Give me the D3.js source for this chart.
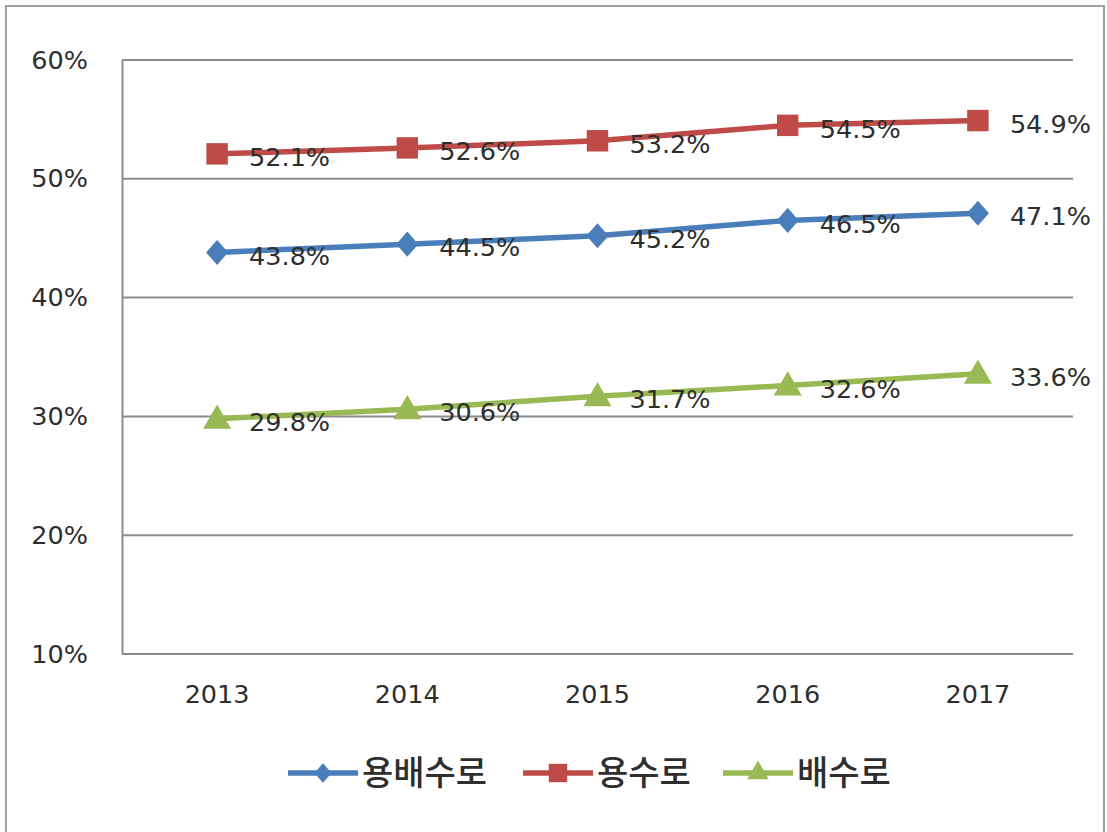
<!DOCTYPE html>
<html>
<head>
<meta charset="utf-8">
<script src="https://cdn.jsdelivr.net/npm/d3@7"></script>
<style>
  body { margin: 0; background: #fff; }
  svg { display: block; }
</style>
</head>
<body>
<svg id="chart" width="1107" height="832"></svg>
<script>
    "use strict";
    //============================================================
    // Data
    //------------------------------------------------------------

    var years = ['2013', '2014', '2015', '2016', '2017'];
    var seriesNames = ['용배수로', '용수로', '배수로'];
    var yongbaesu = [43.8, 44.5, 45.2, 46.5, 47.1];
    var yongsu = [52.1, 52.6, 53.2, 54.5, 54.9];
    var baesu = [29.8, 30.6, 31.7, 32.6, 33.6];
    var yTicks = [10, 20, 30, 40, 50, 60];

    // excel-like diamond: a bit wider than d3's default one
    var excelDiamond = {
        draw: function (context, size) {
            var h = Math.sqrt(size) * 0.75, w = h * 0.88;
            context.moveTo(0, -h);
            context.lineTo(w, 0);
            context.lineTo(0, h);
            context.lineTo(-w, 0);
            context.closePath();
        }
    };

    var series = [
        {key: seriesNames[0], values: yongbaesu, color: '#4a7ebb', symbol: excelDiamond, size: 280, legendSize: 170},
        {key: seriesNames[1], values: yongsu, color: '#be4b48', symbol: d3.symbolSquare, size: 460, legendSize: 340},
        {key: seriesNames[2], values: baesu, color: '#98b954', symbol: d3.symbolTriangle, size: 340, legendSize: 200}
    ];

    //============================================================
    // Layout
    //------------------------------------------------------------

    var margin = {top: 60, right: 34, bottom: 178, left: 122}
      , width = 1107
      , height = 832
      , font = "'DejaVu Sans', Verdana, sans-serif"
      , fontSize = 25.5
      , textColor = '#2e2e2e'
      , gridColor = '#8c8c8c'
      ;

    var svg = d3.select('#chart');

    // outer frame
    svg.append('rect')
        .attr('x', 6).attr('y', 6)
        .attr('width', 1098).attr('height', 840)
        .attr('fill', '#fff')
        .attr('stroke', '#a0a0a0')
        .attr('stroke-width', 2);

    var x = d3.scaleBand()
        .domain(years)
        .range([margin.left, width - margin.right]);

    var y = d3.scaleLinear()
        .domain([10, 60])
        .range([height - margin.bottom, margin.top]);

    var g = svg.append('g');

    // gridlines
    g.selectAll('line.grid')
        .data(yTicks)
        .enter().append('line')
        .attr('class', 'grid')
        .attr('x1', margin.left)
        .attr('x2', width - margin.right)
        .attr('y1', function (d) { return y(d); })
        .attr('y2', function (d) { return y(d); })
        .attr('stroke', gridColor)
        .attr('stroke-width', 2);

    // y axis
    var yAxis = g.append('g')
        .attr('transform', 'translate(' + margin.left + ',0)')
        .call(d3.axisLeft(y).tickValues(yTicks).tickSize(0).tickPadding(34)
            .tickFormat(function (d) { return d + '%'; }));
    yAxis.select('.domain').attr('stroke', gridColor).attr('stroke-width', 2);
    yAxis.selectAll('text')
        .attr('font-family', font)
        .attr('font-size', fontSize)
        .attr('fill', textColor);

    // x axis
    var xAxis = g.append('g')
        .attr('transform', 'translate(0,' + y(10) + ')')
        .call(d3.axisBottom(x).tickSize(0).tickPadding(31));
    xAxis.select('.domain').remove();
    xAxis.selectAll('text')
        .attr('font-family', font)
        .attr('font-size', fontSize)
        .attr('fill', textColor);

    var cx = function (d, i) { return x(years[i]) + x.bandwidth() / 2; };

    var line = d3.line()
        .x(cx)
        .y(function (d) { return y(d); });

    var seriesG = g.selectAll('g.series')
        .data(series)
        .enter().append('g')
        .attr('class', 'series');

    seriesG.append('path')
        .attr('d', function (d) { return line(d.values); })
        .attr('fill', 'none')
        .attr('stroke', function (d) { return d.color; })
        .attr('stroke-width', 5.5);

    seriesG.each(function (s) {
        var sg = d3.select(this);
        sg.selectAll('path.marker')
            .data(s.values)
            .enter().append('path')
            .attr('class', 'marker')
            .attr('d', d3.symbol().type(s.symbol).size(s.size))
            .attr('transform', function (d, i) {
                return 'translate(' + cx(d, i) + ',' + (y(d) + (s.symbol === d3.symbolTriangle ? 2 : 0)) + ')';
            })
            .attr('fill', s.color);

        sg.selectAll('text.label')
            .data(s.values)
            .enter().append('text')
            .attr('class', 'label')
            .attr('x', function (d, i) { return cx(d, i) + 32; })
            .attr('y', function (d) { return y(d) + 3; })
            .attr('dy', '0.36em')
            .attr('font-family', font)
            .attr('font-size', fontSize)
            .attr('fill', textColor)
            .text(function (d) { return d.toFixed(1) + '%'; });
    });

    //============================================================
    // Legend
    //------------------------------------------------------------

    var legendX = [288, 523, 723]
      , legendY = 773;

    var legend = svg.selectAll('g.legend')
        .data(series)
        .enter().append('g')
        .attr('class', 'legend')
        .attr('transform', function (d, i) { return 'translate(' + legendX[i] + ',' + legendY + ')'; });

    legend.append('line')
        .attr('x1', 0).attr('x2', 70)
        .attr('stroke', function (d) { return d.color; })
        .attr('stroke-width', 5.5);

    legend.append('path')
        .attr('d', function (d) {
            return d3.symbol().type(d.symbol).size(d.legendSize)();
        })
        .attr('transform', 'translate(35,0)')
        .attr('fill', function (d) { return d.color; });

    legend.append('text')
        .attr('x', 74)
        .attr('dy', '0.36em')
        .attr('font-family', "'Noto Sans CJK KR', sans-serif")
        .attr('font-size', 34)
        .attr('font-weight', 500)
        .attr('fill', textColor)
        .text(function (d) { return d.key; });
</script>
</body>
</html>
